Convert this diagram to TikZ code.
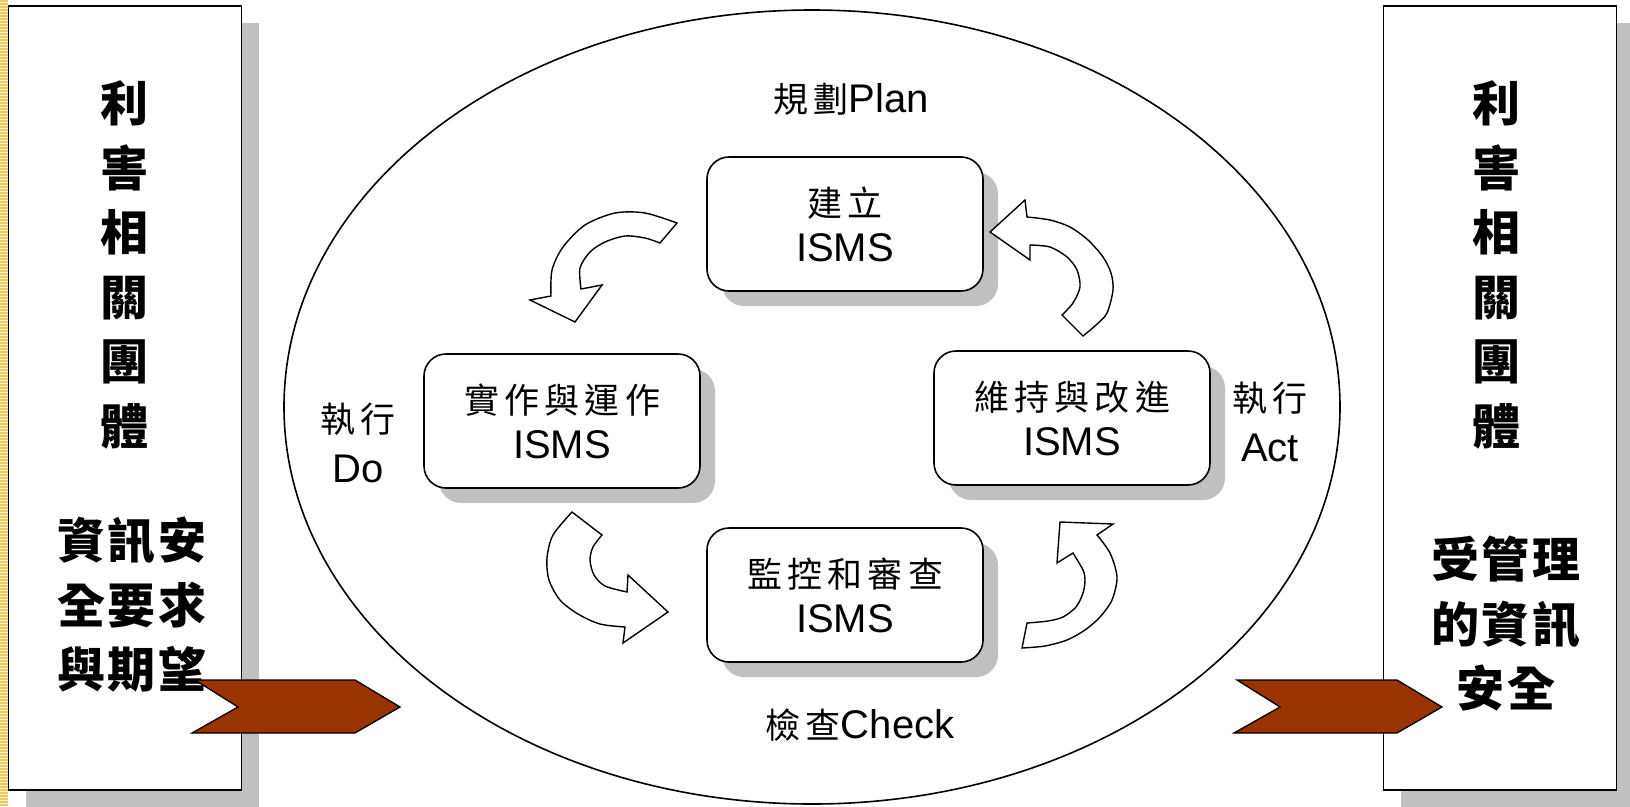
\documentclass[tikz,border=0pt]{standalone}
\usepackage{fontspec}
\setmainfont{Liberation Sans}
\newfontfamily\cjk{Noto Sans CJK TC}
\newfontfamily\cjkwide{Noto Sans CJK TC}[LetterSpace=15]
\newfontfamily\cjkside{Noto Sans CJK TC}[LetterSpace=5]
\usetikzlibrary{positioning,shadows}
\definecolor{chevronred}{HTML}{993300}
\definecolor{shadowgray}{HTML}{C0C0C0}
\definecolor{stripeyellow}{HTML}{F2C85A}
\definecolor{stripepale}{HTML}{FFF3D0}
\def\Chevron(#1){%
  \begin{scope}[shift={(#1)}]
    \draw[chevron] (0,0) -- (160,0) -- (205,27) -- (160,53) -- (-3,53)
      -- (43,27) -- cycle;
  \end{scope}
}

\begin{document}
\begin{tikzpicture}[x=1pt,y=-1pt,
  stage/.style={draw,line width=1.6pt,rounded corners=22pt,fill=white,
    minimum width=276pt,minimum height=134pt,align=center,inner sep=0pt,
    font=\fontsize{40}{45}\selectfont,
    drop shadow={shadow xshift=15pt,shadow yshift=-15pt,fill=shadowgray,opacity=1}},
  stake/.style={draw,line width=1.2pt,fill=white,minimum width=233pt,
    minimum height=784pt,inner sep=0pt,
    drop shadow={shadow xshift=17pt,shadow yshift=-17pt,fill=shadowgray,opacity=1}},
  sidetext/.style={align=center,inner sep=0pt,
    font=\cjkside\bfseries\fontsize{48}{64.5}\selectfont},
  phase/.style={align=center,inner sep=0pt,font=\fontsize{40}{50}\selectfont},
  turn/.style={draw,line width=1.4pt,fill=white,line join=miter},
  chevron/.style={draw,line width=1.3pt,fill=chevronred,line join=miter}]
  \useasboundingbox (0,0) rectangle (1630,806);
  % Slide edge on the left
  \fill[stripepale] (0,0) rectangle (8,806);
  \draw[stripeyellow,line width=8pt,dash pattern=on 1.5pt off 1.5pt] (4,0) -- (4,806);
  % The two stakeholder boxes
  \node[stake] (left box) at (125,398) {};
  \node[stake] (right box) at (1500,398) {};
  \node[sidetext] (left who) at (124,265) {利\\害\\相\\關\\團\\體};
  \node[sidetext] (left need) at (132,605) {資訊安\\全要求\\與期望};
  \node[sidetext] (right who) at (1496,265) {利\\害\\相\\關\\團\\體};
  \node[sidetext] (right need) at (1506,624) {受管理\\的資訊\\安全};
  % The big loop
  \draw[line width=1.6pt] (812,407) ellipse [x radius=528pt,y radius=397pt];
  % The four ISMS stages
  \node[stage] (plan) at (845,224) {{\cjkwide\fontsize{35}{45}\selectfont 建立}\\ISMS};
  \node[stage] (do) at (562,421) {{\cjkwide\fontsize{35}{45}\selectfont 實作與運作}\\ISMS};
  \node[stage] (act) at (1072,418) {{\cjkwide\fontsize{35}{45}\selectfont 維持與改進}\\ISMS};
  \node[stage] (check) at (845,595) {{\cjkwide\fontsize{35}{45}\selectfont 監控和審查}\\ISMS};
  % Phase labels
  \node[phase] (plan label) at (851,99) {{\cjkwide\fontsize{35}{50}\selectfont 規劃}Plan};
  \node[phase] (check label) at (860,725) {{\cjkwide\fontsize{35}{50}\selectfont 檢查}Check};
  \node[phase] (do label) at (358,443) {{\cjkwide\fontsize{35}{50}\selectfont 執行}\\Do};
  \node[phase] (act label) at (1270,422) {{\cjkwide\fontsize{35}{50}\selectfont 執行}\\Act};
  % Curved block arrows between the stages
  \draw[turn] plot[smooth] coordinates {(677,223) (645,213) (615,213) (585,225)
      (563,247) (552,270) (551,296)}
    -- (530,300) -- (575,322) -- (602,285) -- (581,289)
    -- plot[smooth] coordinates {(581,289) (580,268) (590,252) (605,242)
      (625,236) (645,238) (660,243)} -- cycle;
  \draw[turn] (990,232) -- (1025,200) -- (1027,217)
    -- plot[smooth] coordinates {(1027,217) (1050,220) (1070,227) (1088,240)
      (1103,257) (1111,273) (1113,290) (1107,313) (1096,325) (1083,336)}
    -- (1062,315)
    -- plot[smooth] coordinates {(1062,315) (1073,303) (1080,287) (1077,270)
      (1067,257) (1050,247) (1030,245)}
    -- (1030,260) -- cycle;
  \draw[turn] (572,512) -- (602,535)
    -- plot[smooth] coordinates {(602,535) (593,547) (590,560) (594,575)
      (605,586) (627,592)}
    -- (628,575) -- (668,612) -- (623,643) -- (625,627)
    -- plot[smooth] coordinates {(625,627) (600,624) (578,614) (560,600)
      (549,580) (547,558) (553,535) (572,512)} -- cycle;
  \draw[turn] (1060,522) -- (1113,524) -- (1097,535)
    -- plot[smooth] coordinates {(1097,535) (1110,553) (1117,577) (1112,600)
      (1100,617) (1085,630) (1067,640) (1045,646) (1022,648)}
    -- (1027,623)
    -- plot[smooth] coordinates {(1027,623) (1048,621) (1063,617) (1076,607)
      (1083,593) (1085,580) (1083,570) (1073,553)}
    -- (1057,563) -- cycle;
  % In and out arrows
  \Chevron(195,680)
  \Chevron(1237,680)
\end{tikzpicture}
\end{document}
